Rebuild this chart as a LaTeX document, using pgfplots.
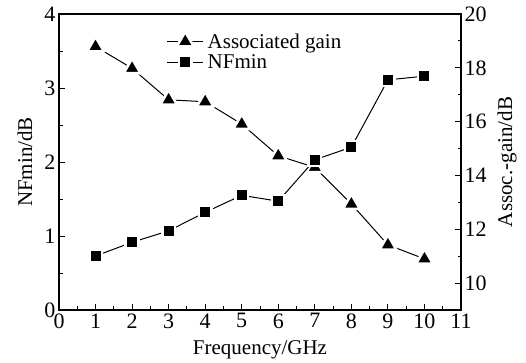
\documentclass[border=0pt]{standalone}
\usepackage{pgfplots}
\pgfplotsset{compat=1.18}
\usepackage{fontspec}
\setmainfont{Liberation Serif}
\begin{document}
\begin{tikzpicture}
\pgfplotsset{
  common/.style={
    at={(0,0)}, anchor=south west, scale only axis,
    width=402pt, height=296pt,
    xmin=0, xmax=11,
    tick align=inside,
    major tick length=6pt, minor tick length=3.5pt,
    every tick/.style={black, line width=0.9pt},
    axis line style={line width=1.1pt, -},
    ticklabel style={font=\fontsize{22}{22}\selectfont},
    label style={font=\fontsize{21}{22}\selectfont},
    /pgf/number format/assume math mode=true,
  },
  tri/.style={black, line width=1pt, mark=triangle*, mark size=9.8pt,
    mark options={solid, fill=black, draw=white, line width=2.6pt, line join=round}},
  sq/.style={black, line width=1pt, mark=square*, mark size=6.3pt,
    mark options={solid, fill=black, draw=white, line width=2.6pt, line join=round}},
}
\begin{axis}[common,
  ymin=9, ymax=20,
  xtick={0,1,...,11}, ytick={10,12,...,20},
  minor x tick num=1, minor y tick num=1,
  xtick pos=bottom, ytick pos=right,
  xlabel={Frequency/GHz}, ylabel={Assoc.-gain/dB},
  xlabel style={at={(rel axis cs:0.5,0)}, anchor=base, yshift=-45pt},
  ylabel style={at={(rel axis cs:1,0.5)}, anchor=center, rotate=0, yshift=-46pt},
]
\addplot[tri] coordinates {
(1,18.79) (2,17.98) (3,16.81) (4,16.74) (5,15.91) (6,14.73) (7,14.3) (8,12.94) (9,11.42) (10,10.90)
};
\end{axis}
\begin{axis}[common,
  ymin=0, ymax=4,
  axis x line=none, axis y line*=left,
  ytick={0,1,2,3,4}, minor y tick num=1,
  ylabel={NFmin/dB},
  ylabel style={at={(rel axis cs:0,0.5)}, anchor=center, yshift=34pt},
  legend style={draw=none, fill=none, at={(rel axis cs:0.265,0.945)}, anchor=north west,
    font=\fontsize{21}{21}\selectfont, row sep=1pt, inner sep=1pt,
    nodes={inner xsep=4pt}},
  legend cell align=left,
  legend image code/.code={\draw[mark repeat=2, mark phase=2] plot coordinates {(0pt,0pt) (18pt,0pt) (36pt,0pt)};},
]
\addlegendimage{tri}
\addlegendentry{Associated gain}
\addplot[sq] coordinates {
(1,0.73) (2,0.915) (3,1.07) (4,1.32) (5,1.55) (6,1.47) (7,2.03) (8,2.20) (9,3.11) (10,3.16)
};
\addlegendentry{NFmin}
\end{axis}
\pgfresetboundingbox
\useasboundingbox (-59pt,-53pt) rectangle (467pt,310pt);
\end{tikzpicture}
\end{document}
